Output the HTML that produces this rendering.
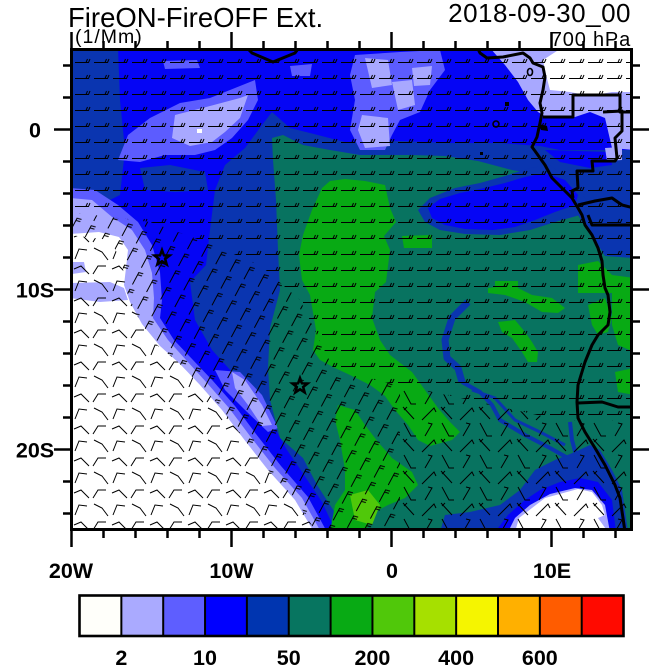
<!DOCTYPE html>
<html><head><meta charset="utf-8"><style>
html,body{margin:0;padding:0;background:#fff;}
svg{display:block;}
text{font-family:"Liberation Sans",Arial,sans-serif;fill:#000;}
.b{font-weight:bold;font-size:21.5px;text-anchor:middle;}
</style></head><body>
<svg width="650" height="667" viewBox="0 0 650 667" xmlns="http://www.w3.org/2000/svg">
<defs>
<clipPath id="mc"><rect x="71.5" y="49.5" width="560" height="480"/></clipPath>
<clipPath id="r1"><polygon points="70,48 634,48 634,420 560,420 470,400 400,385 335,372 300,300 260,265 200,240 150,222 70,212"/></clipPath>
<clipPath id="r2"><polygon points="70,212 150,222 200,240 260,265 300,300 335,372 400,385 400,532 316,532 295,498 268,470 243,438 222,408 198,383 178,362 158,346 140,322 126,290 122,262 110,240 70,235"/></clipPath>
<clipPath id="r3"><polygon points="70,235 110,240 122,262 126,290 140,322 158,346 178,362 198,383 222,408 243,438 268,470 295,498 316,532 70,532"/></clipPath>
<clipPath id="r4"><polygon points="400,385 470,400 560,420 634,420 634,532 400,532"/></clipPath>
<pattern id="pN" patternUnits="userSpaceOnUse" x="74" y="52" width="19" height="16">
<path d="M1 10.5H14.5L16 7M12 10.5L13.5 7" fill="none" stroke="#000" stroke-width="1"/>
</pattern>
<pattern id="pD" patternUnits="userSpaceOnUse" width="19" height="16" patternTransform="rotate(-62)">
<path d="M1 10.5H14.5L15.5 15M12 10.5L13 15" fill="none" stroke="#000" stroke-width="1"/>
</pattern>
<pattern id="pW" patternUnits="userSpaceOnUse" x="72" y="230" width="38" height="32">
<path d="M2 7L9 4L17 12M21 12L26 4L34 4M3 29L7 19L15 20M22 18L30 22L36 30" fill="none" stroke="#000" stroke-width="1"/>
</pattern>
<pattern id="pS" patternUnits="userSpaceOnUse" x="400" y="390" width="38" height="32">
<path d="M4 1L11 14H16M25 14L32 2L28 1M3 17L14 29M7 17L4 20M22 30L34 18L36 22" fill="none" stroke="#000" stroke-width="1"/>
</pattern>
</defs>

<!-- MAP -->
<g clip-path="url(#mc)">
<rect x="70" y="48" width="564" height="484" fill="#0a35b0"/>
<polygon fill="#0505f5" points="118,48 634,48 634,150 610,160 585,160 560,150 540,146 500,143 450,143 400,141 345,142 310,133 290,128 272,112 262,125 245,148 225,165 215,190 210,230 206,265 190,282 195,320 212,350 232,372 252,392 270,420 287,450 302,472 322,502 336,532 70,532 70,205 100,205 120,195 125,150 120,100"/>
<polygon fill="#0a35b0" points="140,168 170,165 205,172 208,190 175,192 145,190"/>
<polygon fill="#5c5cff" points="118,160 128,135 150,118 180,103 210,98 235,88 255,80 258,100 248,120 232,138 215,150 195,155 165,155 140,162"/>
<polygon fill="#a8a8ff" points="175,115 210,106 240,98 248,95 240,118 225,132 212,142 190,146 172,138"/>
<rect x="197" y="129" width="5" height="4" fill="#fff"/>
<polygon fill="#5c5cff" points="163,61 197,60 200,68 165,69"/>
<polygon fill="#5c5cff" points="355,55 400,52 440,50 445,70 430,90 420,112 400,120 392,135 385,150 360,150 350,130 355,100 350,75"/>
<polygon fill="#a8a8ff" points="365,58 388,60 392,85 372,88"/>
<polygon fill="#a8a8ff" points="392,82 412,80 415,105 398,110"/>
<polygon fill="#a8a8ff" points="362,115 388,118 390,146 365,148 358,130"/>
<polygon fill="#a8a8ff" points="412,68 432,66 430,85 414,86"/>
<polygon fill="#5c5cff" points="290,66 312,64 310,76 292,76"/>
<polygon fill="#a8a8ff" points="490,48 634,48 634,150 612,148 605,118 590,112 572,118 548,118 538,112 528,100 518,82 505,65"/>
<polygon fill="#ffffff" points="543,60 560,49 634,49 634,92 612,92 590,96 570,92 550,90 546,75"/>
<!-- SW lavender/white (narrow rings) -->
<polygon fill="#5c5cff" points="70,188 95,190 118,205 138,222 152,245 160,272 162,300 160,318 174,340 193,360 213,381 235,406 256,434 281,466 308,497 327,532 70,532"/>
<polygon fill="#a8a8ff" points="70,198 92,200 112,217 132,230 145,250 152,273 154,298 153,318 168,340 187,361 207,383 229,408 250,436 275,468 302,498 321,532 70,532"/>
<polygon fill="#ffffff" points="70,234 99,232 119,237 128,250 126,268 124,285 130,302 142,324 160,346 180,364 200,385 222,410 243,438 268,470 295,500 314,532 70,532"/>
<polygon fill="#a8a8ff" points="70,283 110,282 124,288 128,300 100,302 70,298"/>
<polygon fill="#a8a8ff" points="72,262 84,262 86,272 72,274"/>
<polygon fill="#5c5cff" points="215,370 240,372 262,395 278,428 268,432 245,410 225,390"/>
<polygon fill="#a8a8ff" points="232,372 245,380 262,405 272,425 262,426 248,405 235,388"/>
<polygon fill="#087360" points="272,138 283,135 303,145 330,150 360,155 412,155 445,156 478,161 512,170 540,175 560,185 580,205 600,225 634,230 634,532 347,532 330,505 317,485 303,458 280,438 270,400 268,368 270,328 280,290 278,250 276,200 273,160"/>
<polygon fill="#0a35b0" points="538,150 634,150 634,258 605,256 598,245 588,232 578,215 565,200 552,185 542,168"/>
<polygon fill="#0a35b0" points="418,210 430,198 455,188 480,183 505,176 530,168 550,165 575,185 590,205 580,215 555,222 530,230 500,235 465,234 440,230 425,222"/>
<polygon fill="#0505f5" points="428,208 440,199 460,193 480,189 505,183 525,177 545,173 565,180 578,195 575,205 555,212 535,220 515,227 493,230 465,229 445,225 432,218"/>
<polygon fill="#0505f5" points="545,150 610,152 612,165 590,168 560,162"/>
<polygon fill="#a8a8ff" points="605,148 622,147 622,160 607,161"/>
<polygon fill="#08aa14" points="322,188 330,181 345,179 365,181 385,185 390,208 396,222 384,236 390,250 386,282 375,292 372,318 380,340 390,355 412,372 425,390 438,408 450,422 460,432 452,440 430,446 418,440 408,425 395,410 385,396 370,385 350,375 335,368 320,360 313,350 316,330 310,295 302,280 299,255 303,235 312,210"/>
<polygon fill="#08aa14" points="338,405 355,410 365,425 378,442 392,458 412,472 418,485 405,498 388,505 375,512 365,532 330,532 335,505 345,490 345,470 340,440 335,420"/>
<polygon fill="#08aa14" points="498,322 515,320 525,332 532,342 538,352 537,362 528,362 522,352 512,338 502,332"/>
<polygon fill="#08aa14" points="488,288 512,285 532,295 552,298 565,308 558,313 542,312 525,302 505,295 488,293"/>
<polygon fill="#08aa14" points="588,305 605,298 612,318 608,332 598,335 592,325"/>
<polygon fill="#08aa14" points="612,292 634,285 634,352 618,345 612,325"/>
<polygon fill="#08aa14" points="615,372 634,368 634,395 618,392"/>
<polygon fill="#08aa14" points="578,265 598,261 612,275 634,278 634,293 578,293"/>
<polygon fill="#08aa14" points="402,236 432,235 432,248 404,248"/>
<polygon fill="#08aa14" points="495,281 518,281 518,293 495,293"/>
<polygon fill="#50c80a" points="350,495 368,490 380,505 372,525 355,520"/>
<polyline fill="none" stroke="#0a35b0" stroke-width="7" stroke-linejoin="round" points="468,302 452,318 445,340 447,358 458,368 462,382"/>
<polyline fill="none" stroke="#0a35b0" stroke-width="4" stroke-linejoin="round" points="462,382 480,392 492,405 500,420 525,435 550,448 575,462 590,475"/>
<polyline fill="none" stroke="#0a35b0" stroke-width="3" points="472,390 495,398 515,420 540,432 565,445"/>
<polyline fill="none" stroke="#0a35b0" stroke-width="4" points="570,422 572,440 576,455"/>
<polygon fill="#0a35b0" points="440,532 445,515 470,512 500,505 520,490 535,470 555,460 575,452 590,445 600,450 612,470 622,490 628,532"/>
<polygon fill="#0505f5" points="495,532 508,515 525,500 540,490 560,482 580,478 598,482 612,500 616,532"/>
<polygon fill="#a8a8ff" points="508,532 515,518 530,505 550,494 575,488 592,490 605,505 610,532"/>
<polygon fill="#ffffff" points="515,532 519,518 545,498 578,489 592,492 602,505 605,515 598,518 608,532"/>

<rect x="70" y="48" width="564" height="484" fill="url(#pN)" clip-path="url(#r1)"/>
<rect x="70" y="48" width="564" height="484" fill="url(#pD)" clip-path="url(#r2)"/>
<rect x="70" y="48" width="564" height="484" fill="url(#pW)" clip-path="url(#r3)"/>
<rect x="70" y="48" width="564" height="484" fill="url(#pS)" clip-path="url(#r4)"/>

<g fill="none" stroke="#000" stroke-width="3" stroke-linejoin="round">
<polyline points="248,49 252,53 273,62 295,53 298,49"/>
<polyline points="478,49 480,53 487,58 503,57 523,53 530,58 533,63 543,67 545,77 543,90 540,103 542,113 540,123 537,137 532,147 535,151 545,165 552,178 562,188 572,198 578,208 582,215 585,225 592,235 598,248 602,261 603,275 605,288 608,295 610,312 608,325 598,335 592,345 585,362 578,385 577,402 578,418 585,432 595,448 605,465 615,485 620,498 623,518 625,532"/>
<polyline points="543,117 573,117 573,95 620,95 620,112 634,112"/>
<polyline points="603,112 622,111 622,131 615,138 617,158 615,161 592,161 593,171 577,171 578,188 572,191 573,198"/>
<polyline points="578,205 595,201 612,198 622,205 634,208"/>
<polyline points="588,215 592,225 634,225"/>
<polyline points="578,403 602,402 618,407 634,407"/>
</g>
<g fill="none" stroke="#000" stroke-width="1.6">
<ellipse cx="530" cy="72" rx="2.5" ry="3.5"/>
<ellipse cx="496" cy="124" rx="3" ry="3"/>
</g>
<rect x="505" y="102" width="4" height="4" fill="#000"/>
<rect x="480" y="152" width="3" height="3" fill="#000"/>
<polygon points="539,124 547,126 548,131 541,130" fill="#000"/>
<path transform="translate(162,258)" d="M0,-8 L1.94,-2.67 L7.61,-2.47 L3.14,1.02 L4.70,6.47 L0,3.3 L-4.70,6.47 L-3.14,1.02 L-7.61,-2.47 L-1.94,-2.67Z" fill="none" stroke="#000" stroke-width="2.5" stroke-linejoin="miter"/>
<path transform="translate(300,386)" d="M0,-8 L1.94,-2.67 L7.61,-2.47 L3.14,1.02 L4.70,6.47 L0,3.3 L-4.70,6.47 L-3.14,1.02 L-7.61,-2.47 L-1.94,-2.67Z" fill="none" stroke="#000" stroke-width="2.5" stroke-linejoin="miter"/>
</g>

<rect x="71.5" y="49.5" width="560" height="480" fill="none" stroke="#000" stroke-width="3"/>
<path fill="none" stroke="#000" stroke-width="2.5" d="
M103.5 529.5v8.5M135.5 529.5v8.5M167.5 529.5v8.5M199.5 529.5v8.5M263.5 529.5v8.5M295.5 529.5v8.5M327.5 529.5v8.5M359.5 529.5v8.5M423.5 529.5v8.5M455.5 529.5v8.5M487.5 529.5v8.5M519.5 529.5v8.5M583.5 529.5v8.5M615.5 529.5v8.5
M71.5 529.5v17.5M231.5 529.5v17.5M391.5 529.5v17.5M551.5 529.5v17.5
M103.5 49.5v-8.5M135.5 49.5v-8.5M167.5 49.5v-8.5M199.5 49.5v-8.5M263.5 49.5v-8.5M295.5 49.5v-8.5M327.5 49.5v-8.5M359.5 49.5v-8.5M423.5 49.5v-8.5M455.5 49.5v-8.5M487.5 49.5v-8.5M519.5 49.5v-8.5M583.5 49.5v-8.5M615.5 49.5v-8.5
M71.5 49.5v-17.5M231.5 49.5v-17.5M391.5 49.5v-17.5M551.5 49.5v-17.5
M71.5 65.5h-8.5M71.5 97.5h-8.5M71.5 161.5h-8.5M71.5 193.5h-8.5M71.5 225.5h-8.5M71.5 257.5h-8.5M71.5 321.5h-8.5M71.5 353.5h-8.5M71.5 385.5h-8.5M71.5 417.5h-8.5M71.5 481.5h-8.5M71.5 513.5h-8.5
M71.5 129.5h-17.5M71.5 289.5h-17.5M71.5 449.5h-17.5
M631.5 65.5h8.5M631.5 97.5h8.5M631.5 161.5h8.5M631.5 193.5h8.5M631.5 225.5h8.5M631.5 257.5h8.5M631.5 321.5h8.5M631.5 353.5h8.5M631.5 385.5h8.5M631.5 417.5h8.5M631.5 481.5h8.5M631.5 513.5h8.5
M631.5 129.5h17.5M631.5 289.5h17.5M631.5 449.5h17.5"/>

<text x="68" y="27" font-size="27.5">FireON-FireOFF Ext.</text>
<text x="631" y="22" font-size="26" letter-spacing="0.5" text-anchor="end">2018-09-30_00</text>
<text x="75" y="43" font-size="19.5" letter-spacing="1">(1/Mm)</text>
<text x="631" y="46" font-size="20" letter-spacing="0.8" text-anchor="end">700 hPa</text>

<text class="b" x="35" y="137.5">0</text>
<text class="b" x="35" y="297.5">10S</text>
<text class="b" x="35" y="457.5">20S</text>
<text class="b" x="71" y="578">20W</text>
<text class="b" x="231.5" y="578">10W</text>
<text class="b" x="392" y="578">0</text>
<text class="b" x="552" y="578">10E</text>

<g stroke="none">
<rect x="79.5" y="595.5" width="41.85" height="40.5" fill="#fffffa"/>
<rect x="121.35" y="595.5" width="41.85" height="40.5" fill="#aaaaff"/>
<rect x="163.2" y="595.5" width="41.85" height="40.5" fill="#5e5eff"/>
<rect x="205.05" y="595.5" width="41.85" height="40.5" fill="#0000ff"/>
<rect x="246.9" y="595.5" width="41.85" height="40.5" fill="#0035b0"/>
<rect x="288.75" y="595.5" width="41.85" height="40.5" fill="#077560"/>
<rect x="330.6" y="595.5" width="41.85" height="40.5" fill="#08aa14"/>
<rect x="372.45" y="595.5" width="41.85" height="40.5" fill="#50c80a"/>
<rect x="414.3" y="595.5" width="41.85" height="40.5" fill="#a6e000"/>
<rect x="456.15" y="595.5" width="41.85" height="40.5" fill="#f5f500"/>
<rect x="498" y="595.5" width="41.85" height="40.5" fill="#ffb000"/>
<rect x="539.85" y="595.5" width="41.85" height="40.5" fill="#ff5c00"/>
<rect x="581.7" y="595.5" width="41.8" height="40.5" fill="#ff0a00"/>
</g>
<path fill="none" stroke="#000" stroke-width="2" d="M121.35 595.5v40.5M163.2 595.5v40.5M205.05 595.5v40.5M246.9 595.5v40.5M288.75 595.5v40.5M330.6 595.5v40.5M372.45 595.5v40.5M414.3 595.5v40.5M456.15 595.5v40.5M498 595.5v40.5M539.85 595.5v40.5M581.7 595.5v40.5"/>
<rect x="79.5" y="595.5" width="544" height="40.5" fill="none" stroke="#000" stroke-width="2.6"/>
<text class="b" x="121.3" y="665">2</text>
<text class="b" x="205" y="665">10</text>
<text class="b" x="288.7" y="665">50</text>
<text class="b" x="372.4" y="665">200</text>
<text class="b" x="456.1" y="665">400</text>
<text class="b" x="539.8" y="665">600</text>
</svg>
</body></html>
